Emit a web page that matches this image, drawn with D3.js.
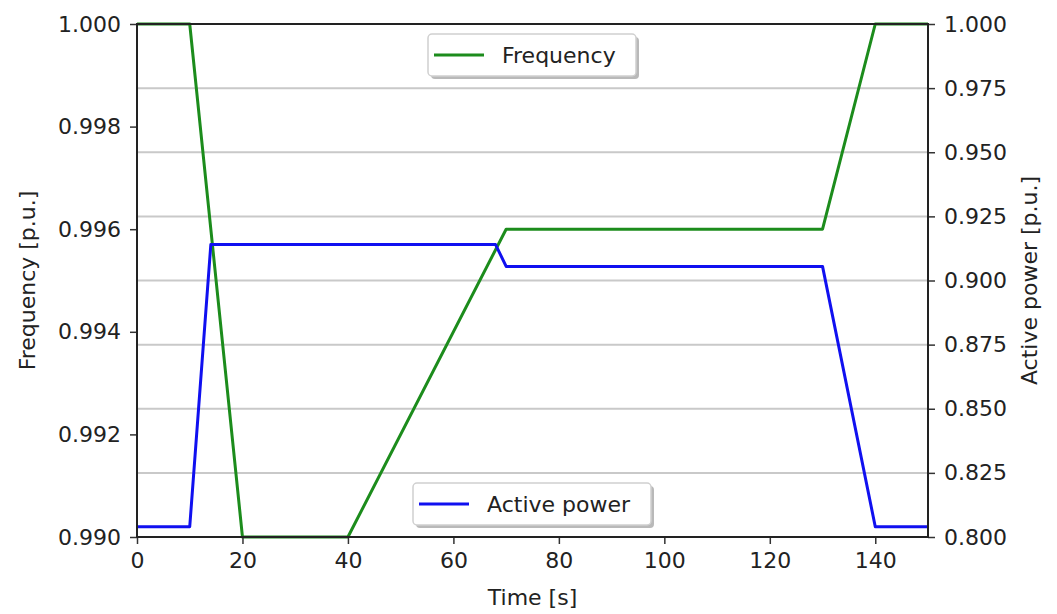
<!DOCTYPE html>
<html>
<head>
<meta charset="utf-8">
<script src="https://cdn.jsdelivr.net/npm/d3@7"></script>
<style>
  html, body { margin: 0; padding: 0; background: #fff; }
  svg { display: block; }
  text { font-family: "DejaVu Sans", sans-serif; fill: #222; }
</style>
</head>
<body>
<svg id="chart" width="1057" height="614"></svg>
<script>
// ---- data ----
const freqTime = [0, 10, 20, 40, 70, 130, 140, 150];
const freqValue = [1.000, 1.000, 0.990, 0.990, 0.996, 0.996, 1.000, 1.000];
const powerTime = [0, 10, 14, 68, 70, 130, 140, 150];
const powerValue = [0.804, 0.804, 0.914, 0.914, 0.9055, 0.9055, 0.804, 0.804];
const xTicks = [0, 20, 40, 60, 80, 100, 120, 140];
const leftTicks = [0.990, 0.992, 0.994, 0.996, 0.998, 1.000];
const rightTicks = [0.800, 0.825, 0.850, 0.875, 0.900, 0.925, 0.950, 0.975, 1.000];

const svg = d3.select("#chart");
const L = 137, R = 928, T = 24, B = 537;
const FS = 22;

const x = d3.scaleLinear().domain([0, 150]).range([L, R]);
const yL = d3.scaleLinear().domain([0.990, 1.000]).range([B, T]);
const yR = d3.scaleLinear().domain([0.800, 1.000]).range([B, T]);

// grid (from right axis ticks)
svg.append("g").selectAll("line").data(rightTicks.filter(d => d > 0.8 && d < 1.0)).join("line")
  .attr("x1", L).attr("x2", R)
  .attr("y1", d => yR(d)).attr("y2", d => yR(d))
  .attr("stroke", "#c9c9c9").attr("stroke-width", 2);

// lines
const line = (ys) => d3.line().x(d => x(d[0])).y(d => ys(d[1]));
const freqData = freqTime.map((t, i) => [t, freqValue[i]]);
const powData = powerTime.map((t, i) => [t, powerValue[i]]);

svg.append("path").datum(freqData).attr("d", line(yL))
  .attr("fill", "none").attr("stroke", "#1c8c1c").attr("stroke-width", 3).attr("stroke-linejoin", "round");
svg.append("path").datum(powData).attr("d", line(yR))
  .attr("fill", "none").attr("stroke", "#1010f0").attr("stroke-width", 3).attr("stroke-linejoin", "round");

// axes
function styleAxis(g) {
  g.select(".domain").remove();
  g.selectAll(".tick line").attr("stroke", "#333").attr("stroke-width", 1.5);
  g.selectAll(".tick text").style("font-size", FS + "px").style("font-family", "DejaVu Sans, sans-serif").attr("fill", "#222");
}
svg.append("g").attr("transform", `translate(0,${B})`)
  .call(d3.axisBottom(x).tickValues(xTicks).tickFormat(d3.format("d")).tickSize(7).tickPadding(8))
  .call(styleAxis);
svg.append("g").attr("transform", `translate(${L},0)`)
  .call(d3.axisLeft(yL).tickValues(leftTicks).tickFormat(d3.format(".3f")).tickSize(7).tickPadding(9))
  .call(styleAxis);
svg.append("g").attr("transform", `translate(${R},0)`)
  .call(d3.axisRight(yR).tickValues(rightTicks).tickFormat(d3.format(".3f")).tickSize(7).tickPadding(9))
  .call(styleAxis);

// frame
svg.append("rect").attr("x", L).attr("y", T).attr("width", R - L).attr("height", B - T)
  .attr("fill", "none").attr("stroke", "#222").attr("stroke-width", 2);

// axis labels
svg.append("text").attr("transform", `translate(${(L + R) / 2},605)`).attr("text-anchor", "middle")
  .style("font-size", FS + "px").text("Time [s]");
svg.append("text").attr("transform", `translate(35,${(T + B) / 2}) rotate(-90)`).attr("text-anchor", "middle")
  .style("font-size", FS + "px").text("Frequency [p.u.]");
svg.append("text").attr("transform", `translate(1037,${(T + B) / 2}) rotate(-90)`).attr("text-anchor", "middle")
  .style("font-size", FS + "px").text("Active power [p.u.]");

// legends
function legend(bx, by, bw, bh, color, label) {
  const g = svg.append("g");
  g.append("rect").attr("x", bx + 3).attr("y", by + 3).attr("width", bw).attr("height", bh)
    .attr("rx", 4).attr("fill", "#8a8a8a").attr("opacity", 0.6);
  g.append("rect").attr("x", bx).attr("y", by).attr("width", bw).attr("height", bh)
    .attr("rx", 4).attr("fill", "#fff").attr("stroke", "#d0d0d0").attr("stroke-width", 1.5);
  g.append("line").attr("x1", bx + 6).attr("x2", bx + 56).attr("y1", by + bh / 2).attr("y2", by + bh / 2)
    .attr("stroke", color).attr("stroke-width", 3);
  g.append("text").attr("x", bx + 74).attr("y", by + bh / 2).attr("dy", "0.35em")
    .style("font-size", FS + "px").text(label);
}
legend(428, 34, 208, 42, "#1c8c1c", "Frequency");
legend(413, 483, 238, 42, "#1010f0", "Active power");
</script>
</body>
</html>
